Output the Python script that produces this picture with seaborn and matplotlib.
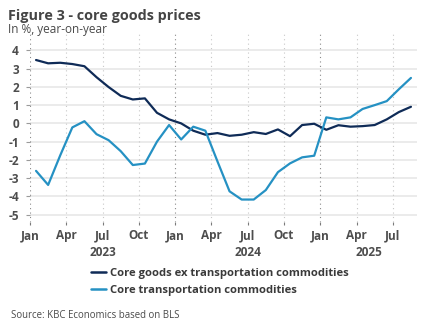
import matplotlib
matplotlib.use("Agg")
import matplotlib.pyplot as plt
import matplotlib.transforms as mtransforms
import pandas as pd
import seaborn as sns

# Monthly year-on-year inflation, Jan 2023 - Aug 2025
months = pd.period_range("2023-01", "2025-08", freq="M")
core_goods_ex_transport = [
    3.47, 3.29, 3.32, 3.25, 3.13, 2.53, 1.99, 1.51, 1.31, 1.37, 0.58, 0.22,
    0.00, -0.40, -0.62, -0.53, -0.68, -0.62, -0.48, -0.58, -0.33, -0.70, -0.09, -0.02,
    -0.35, -0.10, -0.18, -0.15, -0.09, 0.22, 0.62, 0.91,
]
core_transport = [
    -2.60, -3.37, -1.75, -0.22, 0.12, -0.59, -0.92, -1.52, -2.28, -2.20, -1.00, -0.09,
    -0.88, -0.18, -0.40, -2.08, -3.72, -4.17, -4.17, -3.65, -2.67, -2.19, -1.86, -1.77,
    0.33, 0.22, 0.33, 0.79, 1.00, 1.22, 1.87, 2.49,
]
series_names = ["Core goods ex transportation commodities", "Core transportation commodities"]
series_colors = ["#0f2b57", "#2591c3"]
quarter_labels = ["Jan", "Apr", "Jul", "Oct"]
y_ticks = [4, 3, 2, 1, 0, -1, -2, -3, -4, -5]

TEXT = "#4d4d4d"

sns.set_theme(style="white")
plt.rcParams["font.family"] = ["Open Sans", "DejaVu Sans"]

# month index from Jan 2023; values sit mid-month
start = months[0]
pos = [(m - start).n + 0.5 for m in months]
df = pd.DataFrame({
    "x": pos * 2,
    "value": core_goods_ex_transport + core_transport,
    "series": [series_names[0]] * len(pos) + [series_names[1]] * len(pos),
})

fig = plt.figure(figsize=(4.32, 3.34), dpi=100)
ax = fig.add_axes([30 / 432, 1 - 222 / 334, (417 - 30) / 432, (222 - 33) / 334])

# grid
for v in y_ticks:
    ax.axhline(v, color="#e8e8e8", lw=1.2, zorder=0)
n_months = len(months)
quarter_pos = list(range(0, n_months, 3))
for q in quarter_pos:
    is_jan = q % 12 == 0
    ax.axvline(q, color="#8a8a8a" if is_jan else "#c8c8c8", lw=0.8,
               linestyle=(0, (1, 3)), zorder=0)

sns.lineplot(data=df, x="x", y="value", hue="series", hue_order=series_names,
             palette=series_colors, linewidth=1.6, ax=ax, legend=False, zorder=3)

ax.set_xlim(0, 32.0)
ax.set_ylim(-5.4, 4.95)
for s in ax.spines.values():
    s.set_visible(False)

ax.set_yticks(y_ticks)
ax.set_yticklabels([str(v) for v in y_ticks])
ax.tick_params(axis="y", left=True, length=3, width=0.8, color="#9a9a9a", pad=5,
               labelsize=8.5, labelcolor=TEXT)

ax.set_xticks(quarter_pos)
ax.set_xticklabels([quarter_labels[(q % 12) // 3] for q in quarter_pos])
ax.tick_params(axis="x", bottom=True, length=2, width=0.8, color="#7a7a7a", pad=3,
               labelsize=8.5, labelcolor=TEXT)
ax.set_xticks([q for q in quarter_pos if q % 12 == 0], minor=True)
ax.tick_params(axis="x", which="minor", bottom=True, length=4, width=0.8, color="#7a7a7a")
for lab in ax.get_xticklabels() + ax.get_yticklabels():
    lab.set_fontweight("bold")
ax.set_xlabel("")
ax.set_ylabel("")

# year labels centred under each year's months
trans = mtransforms.blended_transform_factory(ax.transData, ax.transAxes)
years = sorted(set(m.year for m in months))
for yr in years:
    idx = [i for i, m in enumerate(months) if m.year == yr]
    centre = (idx[0] + idx[-1] + 1) / 2
    ax.text(centre, -0.163, str(yr), transform=trans, ha="center", va="center",
            fontsize=8.5, fontweight="bold", color=TEXT)

# legend
handles = [plt.Line2D([], [], color=c, lw=1.8) for c in series_colors]
leg = fig.legend(handles, series_names, loc="upper left",
                 bbox_to_anchor=(81 / 432, 1 - 258 / 334), frameon=False,
                 handlelength=1.35, handletextpad=0.35, labelspacing=0.55,
                 prop={"size": 8.1, "weight": "bold"})
for t in leg.get_texts():
    t.set_color("#3a3a3a")

fig.text(8 / 432, 1 - 16 / 334, "Figure 3 - core goods prices", fontsize=10.4,
         fontweight="bold", color="#454545", va="center", ha="left")
fig.text(8 / 432, 1 - 30 / 334, "In %, year-on-year", fontsize=8.5,
         color="#4a4a4a", va="center", ha="left")
fig.text(11 / 432, 1 - 316 / 334, "Source: KBC Economics based on BLS", fontsize=6.9,
         color="#4a4a4a", va="center", ha="left")

fig.savefig("out.png", dpi=100, facecolor="white")
